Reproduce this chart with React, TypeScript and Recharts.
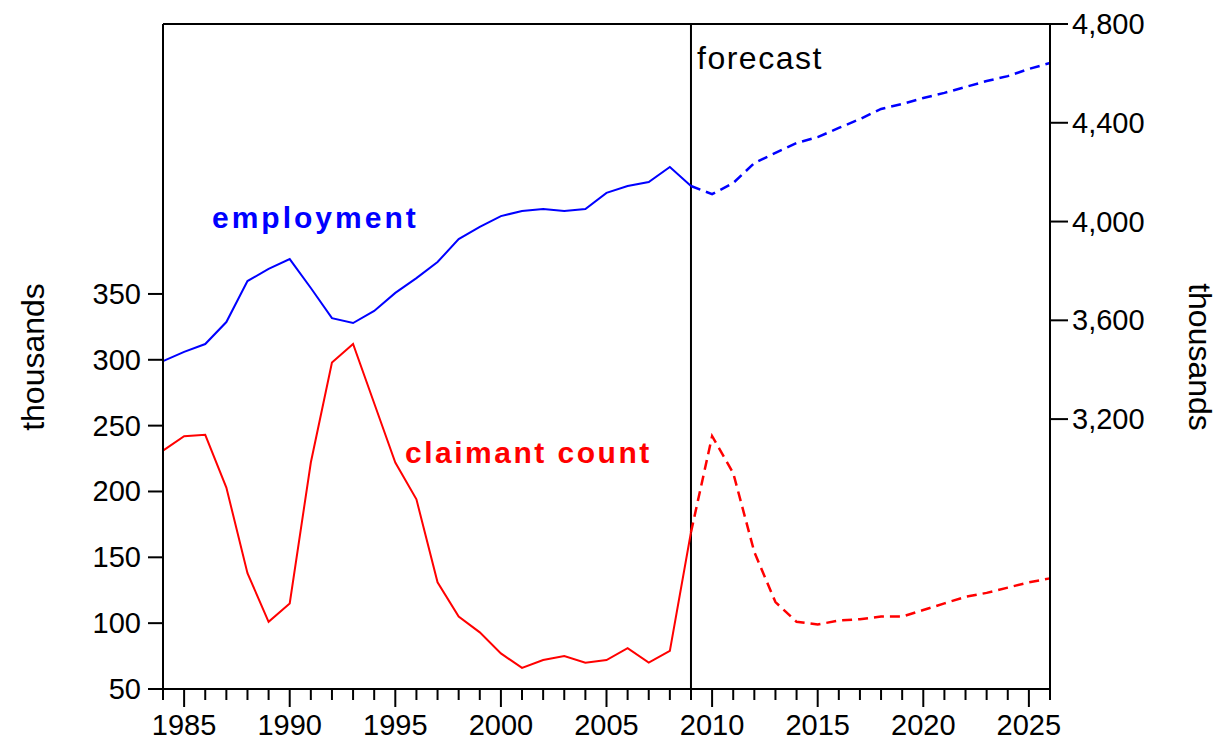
import React from "react";
import {
  LineChart,
  Line,
  XAxis,
  YAxis,
  ReferenceLine,
  Customized,
} from "recharts";

const years = [
  1984, 1985, 1986, 1987, 1988, 1989, 1990, 1991, 1992, 1993, 1994, 1995, 1996,
  1997, 1998, 1999, 2000, 2001, 2002, 2003, 2004, 2005, 2006, 2007, 2008, 2009,
  2010, 2011, 2012, 2013, 2014, 2015, 2016, 2017, 2018, 2019, 2020, 2021, 2022,
  2023, 2024, 2025, 2026,
];

// employment, thousands (right axis)
const employment = [
  3435, 3472, 3504, 3593, 3759, 3808, 3848, 3731, 3609, 3589, 3638, 3711, 3771,
  3836, 3929, 3978, 4022, 4043, 4051, 4043, 4051, 4116, 4144, 4160, 4221, 4144,
  4111, 4156, 4237, 4278, 4318, 4342, 4379, 4415, 4456, 4476, 4500, 4521, 4545,
  4569, 4589, 4618, 4642,
];

// claimant count, thousands (left axis)
const claimant = [
  231, 242, 243, 203, 138, 101, 115, 222, 298, 312, 267, 222, 194, 131, 105, 93,
  77, 66, 72, 75, 70, 72, 81, 70, 79, 169, 242, 214, 154, 116, 101, 99, 102, 103,
  105, 105, 110, 115, 120, 123, 127, 131, 134,
];

const forecastStart = 2009;
const leftTicks = [50, 100, 150, 200, 250, 300, 350];
const rightTicks = [3200, 3600, 4000, 4400, 4800];

const rows = years.map((year, i) => ({
  year,
  empHist: year <= forecastStart ? employment[i] : null,
  empFcst: year >= forecastStart ? employment[i] : null,
  claimHist: year <= forecastStart ? claimant[i] : null,
  claimFcst: year >= forecastStart ? claimant[i] : null,
}));

const FONT = '"Liberation Sans", Arial, sans-serif';

const LeftTick = (props: any) => {
  const { x, y, payload } = props;
  return (
    <g>
      <line x1={x - 15} y1={y} x2={x} y2={y} stroke="#000" strokeWidth={2} />
      <text x={x - 22} y={y} textAnchor="end" dominantBaseline="central" fontSize={29} fontFamily={FONT} fill="#000">
        {payload.value}
      </text>
    </g>
  );
};

const RightTick = (props: any) => {
  const { x, y, payload } = props;
  return (
    <g>
      <line x1={x} y1={y} x2={x + 18} y2={y} stroke="#000" strokeWidth={2} />
      <text x={x + 22} y={y} textAnchor="start" dominantBaseline="central" fontSize={29} fontFamily={FONT} fill="#000">
        {payload.value.toLocaleString("en-US")}
      </text>
    </g>
  );
};

const YearTick = (props: any) => {
  const { x, y, payload } = props;
  const major = payload.value % 5 === 0;
  return (
    <g>
      <line x1={x} y1={y} x2={x} y2={y + (major ? 18 : 11)} stroke="#000" strokeWidth={2} />
      {major && (
        <text x={x} y={y + 46} textAnchor="middle" fontSize={29} fontFamily={FONT} fill="#000">
          {payload.value}
        </text>
      )}
    </g>
  );
};

const Labels = () => (
  <g fontFamily={FONT}>
    <text x={212} y={228} fontSize={30} fontWeight="bold" letterSpacing={3} fill="#0000ff">
      employment
    </text>
    <text x={405} y={463} fontSize={30} fontWeight="bold" letterSpacing={2.5} fill="#ff0000">
      claimant count
    </text>
    <text x={697} y={69} fontSize={32} letterSpacing={1.5} fill="#000">
      forecast
    </text>
    <text x={33} y={357} fontSize={32} textAnchor="middle" dominantBaseline="central" transform="rotate(-90 33 357)" fill="#000">
      thousands
    </text>
    <text x={1200} y={357} fontSize={32} textAnchor="middle" dominantBaseline="central" transform="rotate(90 1200 357)" fill="#000">
      thousands
    </text>
  </g>
);

export default function App() {
  return (
    <div style={{ position: "absolute", left: 0, top: 0, background: "#fff" }}>
      <LineChart
        width={1223}
        height={740}
        data={rows}
        margin={{ top: 24, right: 73, bottom: 1, left: 63 }}
      >
        <XAxis
          dataKey="year"
          type="number"
          domain={[1984, 2026]}
          ticks={years}
          interval={0}
          height={50}
          tickSize={0}
          tickMargin={0}
          tick={<YearTick />}
          axisLine={{ stroke: "#000", strokeWidth: 2 }}
          tickLine={false}
        />
        <YAxis
          yAxisId="left"
          orientation="left"
          domain={[50, 555]}
          allowDataOverflow
          ticks={leftTicks}
          width={100}
          tickSize={0}
          tickMargin={0}
          tick={<LeftTick />}
          axisLine={{ stroke: "#000", strokeWidth: 2 }}
          tickLine={false}
        />
        <YAxis
          yAxisId="right"
          orientation="right"
          domain={[2107, 4800]}
          allowDataOverflow
          ticks={rightTicks}
          width={100}
          tickSize={0}
          tickMargin={0}
          tick={<RightTick />}
          axisLine={{ stroke: "#000", strokeWidth: 2 }}
          tickLine={false}
        />
        <ReferenceLine yAxisId="left" y={555} stroke="#000" strokeWidth={2} />
        <ReferenceLine yAxisId="left" x={forecastStart} stroke="#000" strokeWidth={2} />
        <Line yAxisId="right" dataKey="empHist" stroke="#0000ff" strokeWidth={2} dot={false} isAnimationActive={false} />
        <Line yAxisId="right" dataKey="empFcst" stroke="#0000ff" strokeWidth={2.5} strokeDasharray="10 6" dot={false} isAnimationActive={false} />
        <Line yAxisId="left" dataKey="claimHist" stroke="#ff0000" strokeWidth={2} dot={false} isAnimationActive={false} />
        <Line yAxisId="left" dataKey="claimFcst" stroke="#ff0000" strokeWidth={2.5} strokeDasharray="10 6" dot={false} isAnimationActive={false} />
        <Customized component={Labels} />
      </LineChart>
    </div>
  );
}
